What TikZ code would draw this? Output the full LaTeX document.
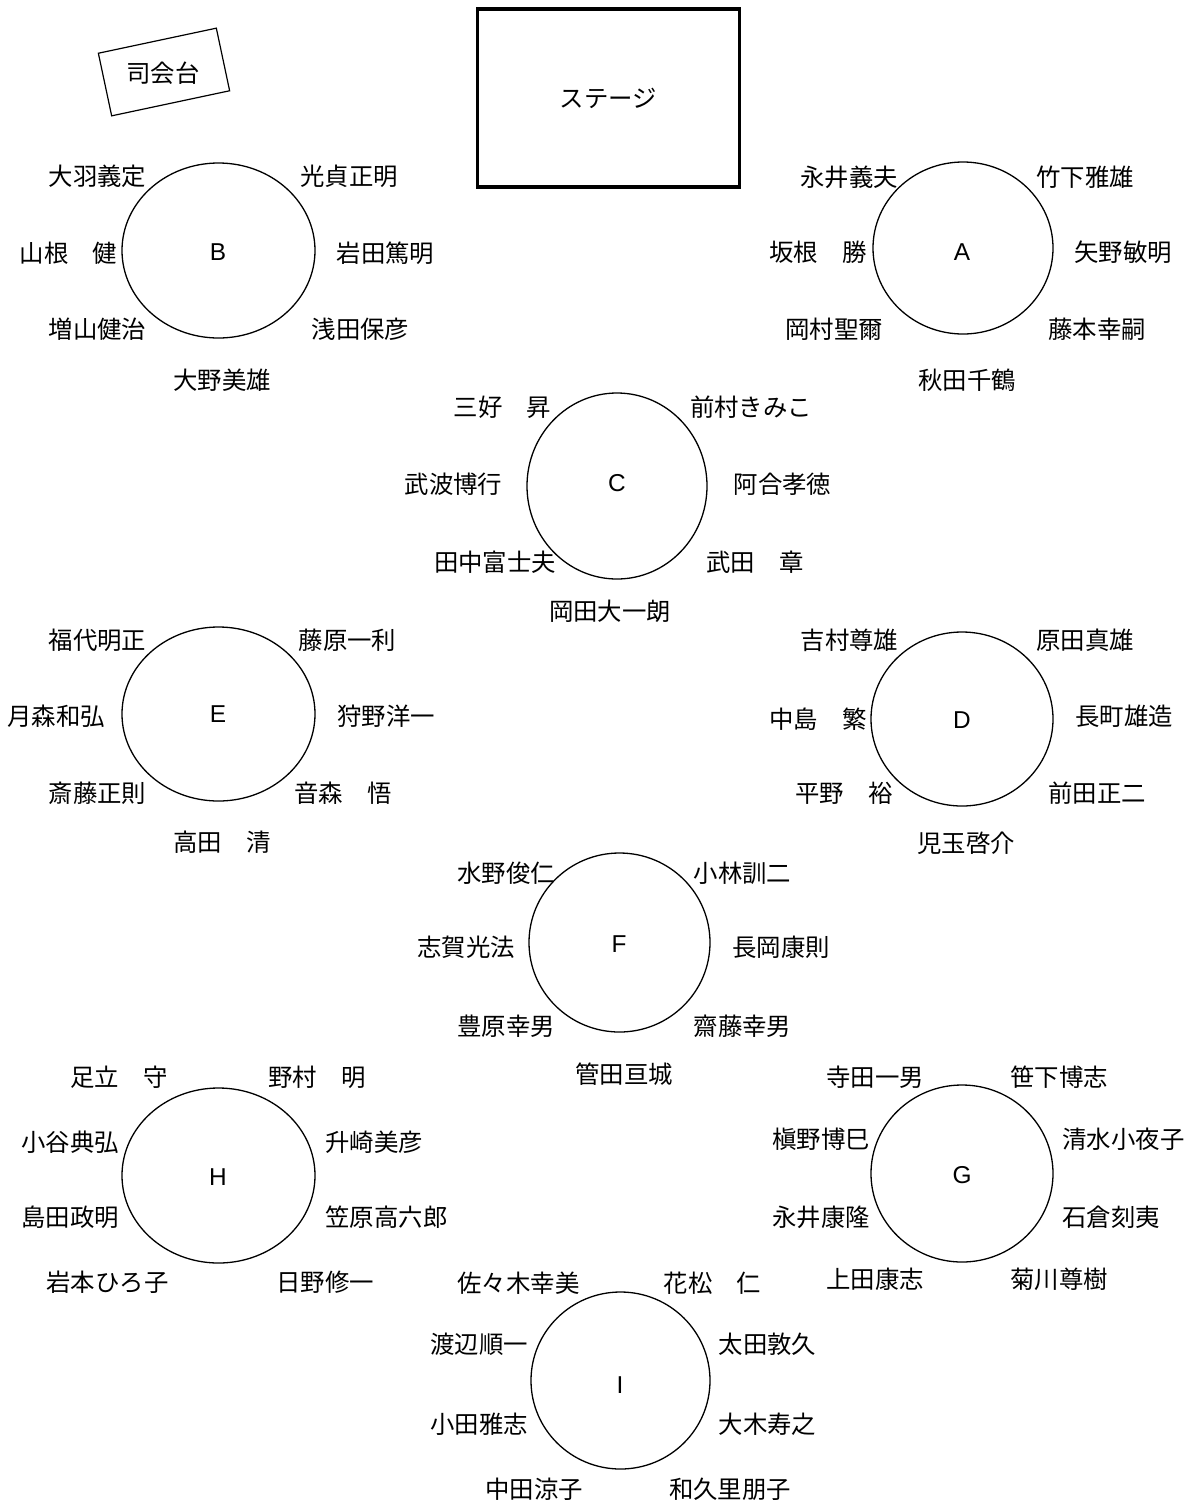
\documentclass[tikz,border=0pt]{standalone}
\usepackage{fontspec}
\setmainfont{Liberation Sans}
\newfontfamily\jp{Noto Sans CJK JP}
\usepackage{xcolor}
\definecolor{cLine}{HTML}{000000}
\usepackage{tikz}
\usetikzlibrary{shapes.geometric}
\tikzset{
  node-table/.style={draw=cLine,line width=0.65pt,ellipse,inner sep=0pt,
    font=\fontsize{12.2}{14}\selectfont},
  node-name/.style={inner sep=0pt,font=\jp\fontsize{12.2}{14}\selectfont},
  node-stage/.style={draw=cLine,line width=1.8pt,inner sep=0pt,
    minimum width=131pt,minimum height=89pt},
  node-podium/.style={draw=cLine,line width=0.6pt,inner sep=0pt,
    minimum width=60.3pt,minimum height=32pt,rotate=12},
}

\begin{document}
\begin{tikzpicture}[x=0.5pt,y=-0.5pt]
  \useasboundingbox (0,0) rectangle (1198,1500);
  % ステージと司会台
  \node[node-stage] (stage) at (608.5,98) {};
  \node[node-name] (stage-txt) at (stage.center) {ステージ};
  \node[node-podium] (podium) at (164,72) {};
  \node[node-name] (podium-txt) at (163,73) {司会台};

  % A
  \node[node-table,minimum width=90pt,minimum height=86pt] (A) at (963,248) {};
  \node[font=\fontsize{12.2}{14}\selectfont] (A-txt) at (962,252) {A};
  \node[node-name] (a1) at (849,177) {永井義夫};
  \node[node-name] (a2) at (1085,177) {竹下雅雄};
  \node[node-name] (a3) at (818,252) {坂根　勝};
  \node[node-name] (a4) at (1123,252) {矢野敏明};
  \node[node-name] (a5) at (834,329) {岡村聖爾};
  \node[node-name] (a6) at (1097,329) {藤本幸嗣};
  \node[node-name] (a7) at (967,380) {秋田千鶴};

  % B
  \node[node-table,minimum width=96.5pt,minimum height=87.5pt] (B) at (218.5,250.5) {};
  \node[font=\fontsize{12.2}{14}\selectfont] (B-txt) at (218,252) {B};
  \node[node-name] (b1) at (97.5,176) {大羽義定};
  \node[node-name] (b2) at (349,176) {光貞正明};
  \node[node-name] (b3) at (68.5,253) {山根　健};
  \node[node-name] (b4) at (385.5,253) {岩田篤明};
  \node[node-name] (b5) at (97.5,329.5) {増山健治};
  \node[node-name] (b6) at (360.5,329.5) {浅田保彦};
  \node[node-name] (b7) at (222,380) {大野美雄};

  % C
  \node[node-table,minimum width=90pt,minimum height=93pt] (C) at (617,486) {};
  \node[font=\fontsize{12.2}{14}\selectfont] (C-txt) at (617,483) {C};
  \node[node-name] (c1) at (502.5,407) {三好　昇};
  \node[node-name] (c2) at (751,407) {前村きみこ};
  \node[node-name] (c3) at (453.5,484) {武波博行};
  \node[node-name] (c4) at (782.5,484) {阿合孝徳};
  \node[node-name] (c5) at (495,562) {田中富士夫};
  \node[node-name] (c6) at (755,562) {武田　章};
  \node[node-name] (c7) at (610,611) {岡田大一朗};

  % D
  \node[node-table,minimum width=91pt,minimum height=87pt] (D) at (962,719) {};
  \node[font=\fontsize{12.2}{14}\selectfont] (D-txt) at (962,720) {D};
  \node[node-name] (d1) at (849.5,640) {吉村尊雄};
  \node[node-name] (d2) at (1085,640) {原田真雄};
  \node[node-name] (d3) at (818,719) {中島　繁};
  \node[node-name] (d4) at (1124,716) {長町雄造};
  \node[node-name] (d5) at (844,793) {平野　裕};
  \node[node-name] (d6) at (1097,793) {前田正二};
  \node[node-name] (d7) at (966,843) {児玉啓介};

  % E
  \node[node-table,minimum width=96.5pt,minimum height=87pt] (E) at (218.5,714) {};
  \node[font=\fontsize{12.2}{14}\selectfont] (E-txt) at (218,714) {E};
  \node[node-name] (e1) at (97.5,640) {福代明正};
  \node[node-name] (e2) at (347.5,640) {藤原一利};
  \node[node-name] (e3) at (56,716) {月森和弘};
  \node[node-name] (e4) at (386,716) {狩野洋一};
  \node[node-name] (e5) at (97.5,793) {斎藤正則};
  \node[node-name] (e6) at (343,793) {音森　悟};
  \node[node-name] (e7) at (222,842) {高田　清};

  % F
  \node[node-table,minimum width=90.5pt,minimum height=89.5pt] (F) at (619.5,942.5) {};
  \node[font=\fontsize{12.2}{14}\selectfont] (F-txt) at (619,944) {F};
  \node[node-name] (f1) at (506,873) {水野俊仁};
  \node[node-name] (f2) at (742.5,873) {小林訓二};
  \node[node-name] (f3) at (466,947) {志賀光法};
  \node[node-name] (f4) at (781,947) {長岡康則};
  \node[node-name] (f5) at (506,1026) {豊原幸男};
  \node[node-name] (f6) at (742.5,1026) {齋藤幸男};
  \node[node-name] (f7) at (624,1074) {管田亘城};

  % G
  \node[node-table,minimum width=91pt,minimum height=88.5pt] (G) at (962,1173.5) {};
  \node[font=\fontsize{12.2}{14}\selectfont] (G-txt) at (962,1175) {G};
  \node[node-name] (g1) at (875,1077) {寺田一男};
  \node[node-name] (g2) at (1059,1077) {笹下博志};
  \node[node-name] (g3) at (821,1139) {槇野博巳};
  \node[node-name] (g4) at (1123.5,1139) {清水小夜子};
  \node[node-name] (g5) at (821,1217) {永井康隆};
  \node[node-name] (g6) at (1111,1217) {石倉刻夷};
  \node[node-name] (g7) at (875,1279) {上田康志};
  \node[node-name] (g8) at (1059,1279) {菊川尊樹};

  % H
  \node[node-table,minimum width=96.5pt,minimum height=87.5pt] (H) at (218.5,1175.5) {};
  \node[font=\fontsize{12.2}{14}\selectfont] (H-txt) at (218,1177) {H};
  \node[node-name] (h1) at (119,1077) {足立　守};
  \node[node-name] (h2) at (317,1077) {野村　明};
  \node[node-name] (h3) at (70,1142) {小谷典弘};
  \node[node-name] (h4) at (374,1142) {升崎美彦};
  \node[node-name] (h5) at (70,1217) {島田政明};
  \node[node-name] (h6) at (386.5,1217) {笠原高六郎};
  \node[node-name] (h7) at (107.5,1282) {岩本ひろ子};
  \node[node-name] (h8) at (325,1282) {日野修一};

  % I
  \node[node-table,minimum width=89.5pt,minimum height=88.5pt] (I) at (620.5,1380.5) {};
  \node[font=\fontsize{12.2}{14}\selectfont] (I-txt) at (620,1385) {I};
  \node[node-name] (i1) at (518.5,1283) {佐々木幸美};
  \node[node-name] (i2) at (712.5,1283) {花松　仁};
  \node[node-name] (i3) at (479,1344) {渡辺順一};
  \node[node-name] (i4) at (767.5,1344) {太田敦久};
  \node[node-name] (i5) at (479,1424) {小田雅志};
  \node[node-name] (i6) at (767.5,1424) {大木寿之};
  \node[node-name] (i7) at (534,1489) {中田涼子};
  \node[node-name] (i8) at (730,1489) {和久里朋子};
\end{tikzpicture}
\end{document}
